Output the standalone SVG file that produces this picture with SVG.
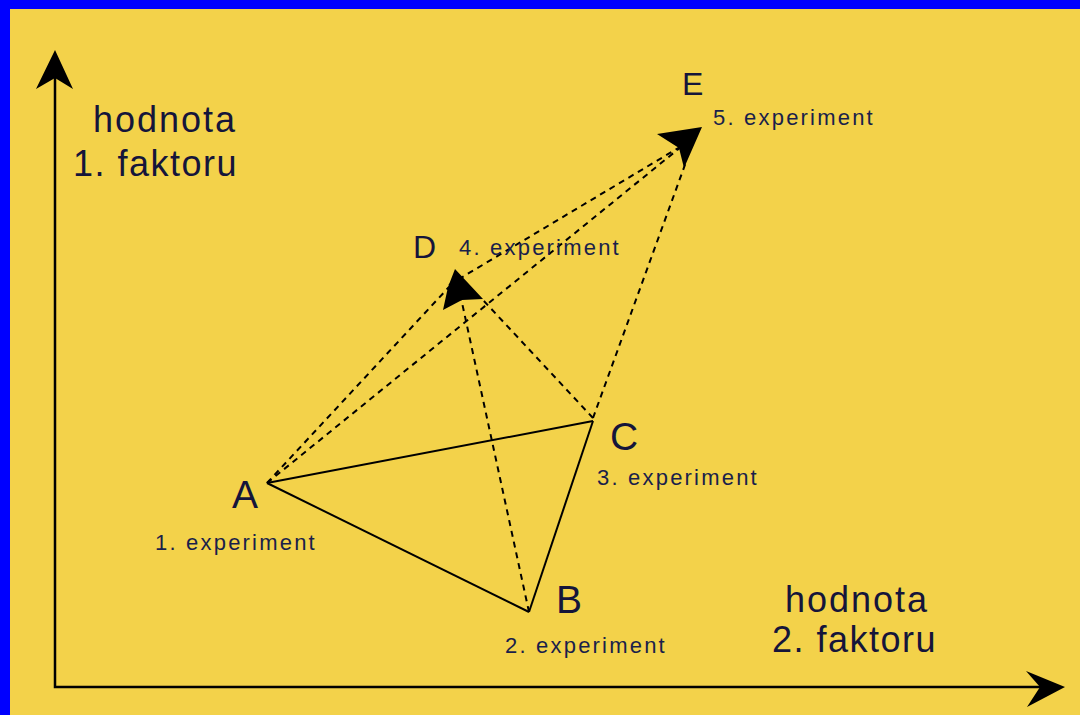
<svg xmlns="http://www.w3.org/2000/svg" width="1080" height="715" viewBox="0 0 1080 715">
<style>
.bg{fill:#F3D24A}
.frame{fill:#0000FF}
.axis{stroke:#000;stroke-width:2.5;fill:none}
.solid{stroke:#000;stroke-width:2;fill:none}
.dash{stroke:#000;stroke-width:2;fill:none;stroke-dasharray:6 5}
.head{fill:#000}
.big{font-family:"Liberation Sans",Arial,sans-serif;fill:#15153a}
.axt{font-size:36px;letter-spacing:2px}
.axt2{font-size:36px;letter-spacing:1.5px}
.pt{font-size:39px}
.pt2{font-size:32px}
.exp{font-family:"Liberation Sans",Arial,sans-serif;font-size:22px;letter-spacing:2.2px;fill:#1a1f4a}
</style>
<rect class="bg" x="0" y="0" width="1080" height="715"/>
<rect class="frame" x="0" y="0" width="1080" height="9"/>
<rect class="frame" x="0" y="0" width="10" height="715"/>

<g id="axes">
<polyline class="axis" points="55,78 55,687 1042,687"/>
<polygon class="head" points="55,50 73,89 55,78 36,89"/>
<polygon class="head" points="1065,687 1026,671 1040,687 1027,707"/>
<text class="big axt" x="93" y="132">hodnota</text>
<text class="big axt2" x="73" y="176">1. faktoru</text>
<text class="big axt" x="785" y="612">hodnota</text>
<text class="big axt2" x="772" y="652">2. faktoru</text>
</g>

<g id="connectors">
<line class="solid" x1="267" y1="483" x2="529" y2="612"/>
<line class="solid" x1="267" y1="483" x2="593" y2="421"/>
<line class="solid" x1="529" y1="612" x2="593" y2="421"/>
<line class="dash" x1="267" y1="483" x2="449" y2="287"/>
<line class="dash" x1="267" y1="483" x2="692" y2="138"/>
<line class="dash" x1="529" y1="612" x2="461" y2="298"/>
<line class="dash" x1="593" y1="418" x2="483" y2="300"/>
<line class="dash" x1="449" y1="285" x2="690" y2="141"/>
<line class="dash" x1="593" y1="418" x2="686" y2="162"/>
<polygon class="head" points="455,269 483,299 462,300 443,310 448,287"/>
<polygon class="head" points="702,127 684,168 679,148 657,134"/>
</g>

<g id="nodeA">
<text class="big pt" x="232" y="508">A</text>
<text class="exp" x="155" y="550">1. experiment</text>
</g>
<g id="nodeB">
<text class="big pt" x="556" y="613">B</text>
<text class="exp" x="505" y="653">2. experiment</text>
</g>
<g id="nodeC">
<text class="big pt" x="610" y="450">C</text>
<text class="exp" x="597" y="485">3. experiment</text>
</g>
<g id="nodeD">
<text class="big pt2" x="413" y="258">D</text>
<text class="exp" x="459" y="255">4. experiment</text>
</g>
<g id="nodeE">
<text class="big pt2" x="682" y="95">E</text>
<text class="exp" x="713" y="125">5. experiment</text>
</g>
</svg>
